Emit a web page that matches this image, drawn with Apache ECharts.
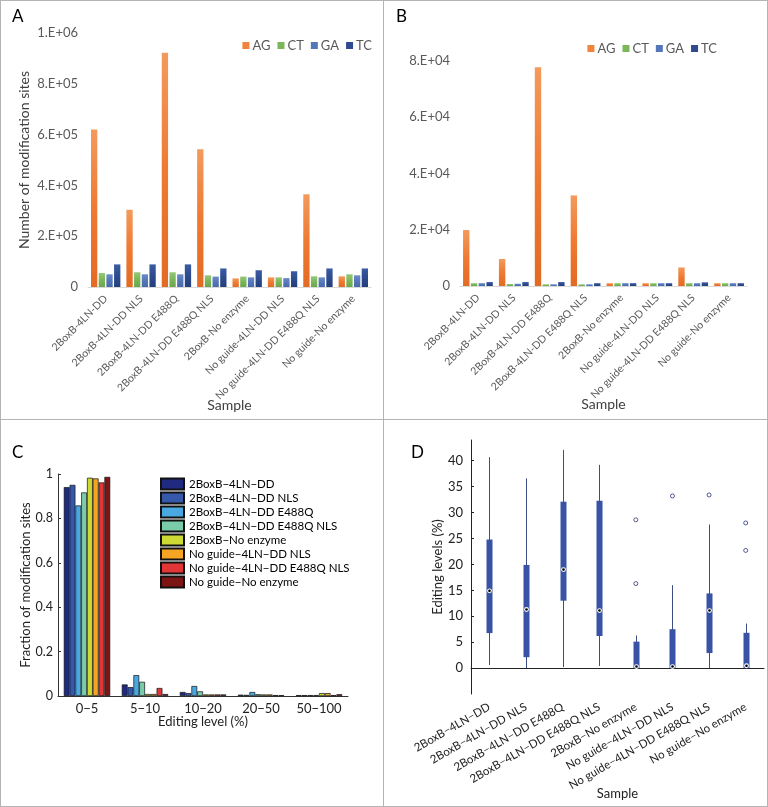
<!DOCTYPE html>
<html>
<head>
<meta charset="utf-8">
<script src="https://cdn.jsdelivr.net/npm/echarts@6/dist/echarts.min.js"></script>
<style>
  html, body { margin: 0; padding: 0; background: #fff; }
  #wrap { position: relative; width: 768px; height: 807px; overflow: hidden; }
  .panel { position: absolute; }
  .line { position: absolute; background: #b4b4b4; }
</style>
</head>
<body>
<div id="wrap">
  <div id="pA" class="panel" style="left:0;top:0;width:384px;height:420px"></div>
  <div id="pB" class="panel" style="left:384px;top:0;width:384px;height:420px"></div>
  <div id="pC" class="panel" style="left:0;top:420px;width:384px;height:387px"></div>
  <div id="pD" class="panel" style="left:384px;top:420px;width:384px;height:387px"></div>
  <div class="line" style="left:0;top:0;width:768px;height:1px"></div>
  <div class="line" style="left:0;top:806px;width:768px;height:1px"></div>
  <div class="line" style="left:0;top:0;width:1px;height:807px"></div>
  <div class="line" style="left:767px;top:0;width:1px;height:807px"></div>
  <div class="line" style="left:383px;top:0;width:1px;height:807px"></div>
  <div class="line" style="left:0;top:419px;width:768px;height:1px"></div>
</div>
<script>
// ---------- data ----------
const samplesAB = ['2BoxB-4LN-DD', '2BoxB-4LN-DD NLS', '2BoxB-4LN-DD E488Q', '2BoxB-4LN-DD E488Q NLS',
  '2BoxB-No enzyme', 'No guide-4LN-DD NLS', 'No guide-4LN-DD E488Q NLS', 'No guide-No enzyme'];
const mutTypes = ['AG', 'CT', 'GA', 'TC'];
// Panel A
const aAG = [620000, 304000, 922000, 542000, 34000, 38000, 365000, 42000];
const aCT = [55000, 58000, 58000, 46000, 41000, 38000, 42000, 50000];
const aGA = [50000, 50000, 50000, 41000, 38000, 35000, 38000, 46000];
const aTC = [89000, 89000, 89000, 73000, 66000, 62000, 73000, 73000];
// Panel B
const bAG = [19900, 9600, 77800, 32200, 1000, 1000, 6600, 1000];
const bCT = [1000, 700, 600, 600, 1000, 1000, 1000, 1000];
const bGA = [1000, 800, 600, 600, 1000, 1000, 1000, 1000];
const bTC = [1400, 1400, 1400, 1000, 1000, 1000, 1300, 1000];
const aTicks = { min: 0, max: 1000000, interval: 200000 };
const bTicks = { min: 0, max: 80000, interval: 20000 };
// Panel C
const levelBins = ['0\u22125', '5\u221210', '10\u221220', '20\u221250', '50\u2212100'];
const samplesCD = ['2BoxB\u22124LN\u2212DD', '2BoxB\u22124LN\u2212DD NLS', '2BoxB\u22124LN\u2212DD E488Q',
  '2BoxB\u22124LN\u2212DD E488Q NLS', '2BoxB\u2212No enzyme', 'No guide\u22124LN\u2212DD NLS',
  'No guide\u22124LN\u2212DD E488Q NLS', 'No guide\u2212No enzyme'];
const cS1 = [0.941, 0.052, 0.018, 0.006, 0.004];
const cS2 = [0.951, 0.040, 0.013, 0.005, 0.004];
const cS3 = [0.858, 0.094, 0.045, 0.018, 0.004];
const cS4 = [0.917, 0.064, 0.021, 0.008, 0.004];
const cS5 = [0.983, 0.009, 0.007, 0.007, 0.013];
const cS6 = [0.980, 0.009, 0.007, 0.007, 0.013];
const cS7 = [0.962, 0.036, 0.007, 0.004, 0.004];
const cS8 = [0.987, 0.009, 0.007, 0.004, 0.008];
// Panel D: [min, q1, median, q3, max]
const dBox = [
  [0.6, 6.75, 14.9, 24.8, 40.7],
  [0.0, 2.1, 11.3, 19.9, 36.6],
  [0.2, 13.0, 19.0, 32.1, 42.1],
  [0.4, 6.2, 11.1, 32.3, 39.2],
  [0.0, 0.0, 0.3, 5.1, 6.3],
  [0.0, 0.0, 0.3, 7.5, 16.0],
  [0.0, 2.9, 11.1, 14.4, 27.7],
  [0.0, 0.0, 0.45, 6.8, 8.6]
];
const dOutliers = [[4, 28.6], [4, 16.3], [5, 33.2], [6, 33.4], [7, 28.0], [7, 22.7]];
const dTicks = [0, 5, 10, 15, 20, 25, 30, 35, 40];

// ---------- helpers ----------
const FONT = 'Lato, "Noto Sans", sans-serif';
function sciFmt(v) {
  if (v === 0) return '0';
  const e = Math.floor(Math.log10(v) + 1e-9);
  const m = Math.round(v / Math.pow(10, e));
  return m + '.E+' + (e < 10 ? '0' + e : e);
}
function grad(top, mid, bot) {
  return new echarts.graphic.LinearGradient(0, 0, 0, 1, [
    { offset: 0, color: top }, { offset: 0.5, color: mid }, { offset: 1, color: bot }
  ]);
}
const mutColors = [
  grad('#f39a5c', '#ef7a32', '#e36a22'),
  grad('#95c777', '#7bb65a', '#6aa64c'),
  grad('#6a8cca', '#5577ba', '#4869ac'),
  grad('#3a5ba3', '#2d4b8e', '#223f7c')
];
const mutLegendColors = ['#f0843c', '#7cb65a', '#5577ba', '#2d4b8e'];

function barOption(letter, vals, ticks, grid, legendRight, legendTop) {
  return {
    animation: false,
    textStyle: { fontFamily: FONT },
    graphic: [{ type: 'text', left: 12, top: 8, style: { text: letter, font: '17px ' + FONT, fill: '#000' } }],
    legend: {
      data: mutTypes.map((n, i) => ({ name: n, itemStyle: { color: mutLegendColors[i] } })),
      right: legendRight, top: legendTop, padding: 0, icon: 'rect', itemWidth: 7, itemHeight: 7, itemGap: 7,
      textStyle: { fontSize: 13, color: '#595959', fontFamily: FONT, padding: [0, 0, 0, -2] }
    },
    grid: Object.assign({ outerBoundsMode: 'none', containLabel: false }, grid),
    xAxis: {
      type: 'category', data: samplesAB,
      axisLine: { lineStyle: { color: '#d9d9d9' } }, axisTick: { show: false },
      axisLabel: { rotate: 45, interval: 0, fontSize: 10.5, color: '#595959', margin: 10, fontFamily: FONT },
      name: 'Sample', nameLocation: 'middle', nameGap: 111, nameMoveOverlap: false,
      nameTextStyle: { fontSize: 14, color: '#404040', fontFamily: FONT, verticalAlign: 'top' }
    },
    yAxis: {
      type: 'value', min: ticks.min, max: ticks.max, interval: ticks.interval,
      splitLine: { show: false }, axisLine: { show: false }, axisTick: { show: false },
      axisLabel: { formatter: sciFmt, fontSize: 13, color: '#595959', margin: 10, fontFamily: FONT },
      name: letter === 'A' ? 'Number of modification sites' : '', nameLocation: 'middle',
      nameGap: 57, nameMoveOverlap: false,
      nameTextStyle: { fontSize: 14, color: '#404040', fontFamily: FONT }
    },
    series: vals.map((d, i) => ({
      name: mutTypes[i], type: 'bar', data: d, barGap: '22%', barCategoryGap: '17%',
      itemStyle: { color: mutColors[i] }
    }))
  };
}

// ---------- Panel A ----------
echarts.init(document.getElementById('pA')).setOption(
  barOption('A', [aAG, aCT, aGA, aTC], aTicks, { left: 88, right: 13, top: 33, bottom: 133 }, 12, 39)
);
// ---------- Panel B ----------
echarts.init(document.getElementById('pB')).setOption(
  barOption('B', [bAG, bCT, bGA, bTC], bTicks, { left: 76, right: 21, top: 61, bottom: 134 }, 51, 42)
);

// ---------- Panel C ----------
const cColors = ['#1f2a80', '#3558aa', '#4aa8e0', '#7acba9', '#cdda33', '#f5a424', '#e23535', '#7e1515'];
const cVals = [cS1, cS2, cS3, cS4, cS5, cS6, cS7, cS8];
echarts.init(document.getElementById('pC')).setOption({
  animation: false,
  textStyle: { fontFamily: FONT },
  graphic: [{ type: 'text', left: 12, top: 24, style: { text: 'C', font: '17px ' + FONT, fill: '#000' } }],
  legend: {
    orient: 'vertical', left: 160, top: 57, padding: 0, icon: 'rect', itemWidth: 23, itemHeight: 11, itemGap: 0,
    data: samplesCD, textStyle: { fontSize: 11.5, lineHeight: 14, color: '#000', fontFamily: FONT }
  },
  grid: { left: 58, right: 36, top: 54, bottom: 111, outerBoundsMode: 'none', containLabel: false },
  xAxis: {
    type: 'category', data: levelBins,
    axisLine: { lineStyle: { color: '#333' } }, axisTick: { show: false },
    axisLabel: { interval: 0, fontSize: 13, color: '#222', margin: 6, fontFamily: FONT },
    name: 'Editing level (%)', nameLocation: 'middle', nameGap: 19, nameMoveOverlap: false,
    nameTextStyle: { fontSize: 13, color: '#222', fontFamily: FONT, verticalAlign: 'top' }
  },
  yAxis: {
    type: 'value', min: 0, max: 1, interval: 0.2,
    splitLine: { show: false },
    axisLine: { show: true, lineStyle: { color: '#333' } },
    axisTick: { show: true, inside: true, length: 3, lineStyle: { color: '#333' } },
    axisLabel: { fontSize: 12.5, color: '#222', margin: 5, fontFamily: FONT },
    name: 'Fraction of modification sites', nameLocation: 'middle', nameGap: 26, nameMoveOverlap: false,
    nameTextStyle: { fontSize: 13, color: '#222', fontFamily: FONT }
  },
  series: cVals.map((d, i) => ({
    name: samplesCD[i], type: 'bar', data: d, barGap: '0%', barCategoryGap: '20%',
    itemStyle: { color: cColors[i], borderColor: '#111', borderWidth: 0.7 }
  }))
});

// ---------- Panel D ----------
echarts.init(document.getElementById('pD')).setOption({
  animation: false,
  textStyle: { fontFamily: FONT },
  graphic: [{ type: 'text', left: 27, top: 24, style: { text: 'D', font: '17px ' + FONT, fill: '#000' } }],
  grid: { left: 87, right: 4, top: 20, bottom: 113, outerBoundsMode: 'none', containLabel: false },
  xAxis: {
    type: 'category', data: samplesCD,
    axisLine: { lineStyle: { color: '#222' } }, axisTick: { show: false },
    axisLabel: { rotate: 30, interval: 0, fontSize: 11.5, color: '#222', margin: 12, fontFamily: FONT },
    name: 'Sample', nameLocation: 'middle', nameGap: 93, nameMoveOverlap: false,
    nameTextStyle: { fontSize: 13, color: '#222', fontFamily: FONT, verticalAlign: 'top' }
  },
  yAxis: {
    type: 'value', min: -5, max: 44, interval: 5,
    splitLine: { show: false },
    axisLine: { show: true, lineStyle: { color: '#222' } },
    axisTick: { show: true, inside: true, length: 3, lineStyle: { color: '#222' },
      customValues: dTicks },
    axisLabel: { fontSize: 13, color: '#222', margin: 8, fontFamily: FONT, customValues: dTicks },
    name: 'Editing levels (%)', nameLocation: 'middle', nameGap: 27, nameMoveOverlap: false,
    nameTextStyle: { fontSize: 13, color: '#222', fontFamily: FONT }
  },
  series: [
    {
      type: 'custom',
      data: dBox.map((b, i) => [i].concat(b)),
      encode: { x: 0, y: [1, 2, 3, 4, 5] },
      renderItem: function (params, api) {
        const x = api.value(0);
        const pMin = api.coord([x, api.value(1)]);
        const pQ1 = api.coord([x, api.value(2)]);
        const pMed = api.coord([x, api.value(3)]);
        const pQ3 = api.coord([x, api.value(4)]);
        const pMax = api.coord([x, api.value(5)]);
        const cx = Math.round(pMed[0]) + 0.5;
        const w = 6;
        return {
          type: 'group',
          children: [
            { type: 'line', shape: { x1: cx, y1: pMin[1], x2: cx, y2: pMax[1] },
              style: { stroke: '#3e4d82', lineWidth: 1 } },
            { type: 'rect', shape: { x: cx - w / 2, y: pQ3[1], width: w, height: pQ1[1] - pQ3[1] },
              style: { fill: '#3853a5' } },
            { type: 'circle', shape: { cx: cx, cy: pMed[1], r: 2.4 }, style: { fill: '#fff' } },
            { type: 'circle', shape: { cx: cx, cy: pMed[1], r: 1.3 }, style: { fill: '#000' } }
          ]
        };
      }
    },
    {
      type: 'scatter', data: dOutliers, symbol: 'circle', symbolSize: 4,
      itemStyle: { color: '#fff', borderColor: '#28347e', borderWidth: 1 }
    }
  ]
});
</script>
</body>
</html>
